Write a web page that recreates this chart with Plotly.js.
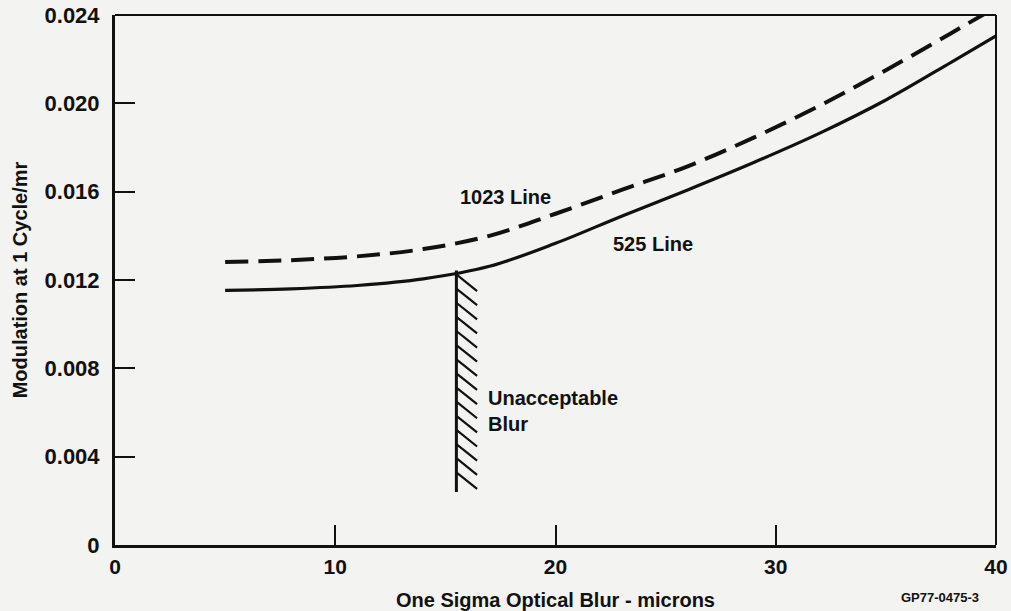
<!DOCTYPE html>
<html>
<head>
<meta charset="utf-8">
<script src="https://cdn.plot.ly/plotly-3.0.1.min.js"></script>
<style>
  html, body { margin: 0; padding: 0; background: #f3f3f1; }
  #chart { width: 1011px; height: 611px; }
</style>
</head>
<body>
<div id="chart"></div>
<script>
// ---- data ----
const x525 = [5, 8, 11, 14, 17, 20, 23, 26, 29, 32, 35, 38, 40];
const y525 = [0.01153, 0.0116, 0.01175, 0.01205, 0.01262, 0.01366, 0.01489, 0.01608, 0.01732, 0.01865, 0.02015, 0.02188, 0.02305];

const x1023 = [5, 8, 11, 14, 17, 20, 23, 26, 29, 32, 35, 38, 40];
const y1023 = [0.01282, 0.0129, 0.01307, 0.0134, 0.0140, 0.0150, 0.01608, 0.01715, 0.01845, 0.0199, 0.0215, 0.0232, 0.02435];

const blurLimitX = 15.5;
const blurLimitTop = 0.01243;
const blurLimitBottom = 0.0024;

const xTickVals = [0, 10, 20, 30, 40];
const xTickText = ["0", "10", "20", "30", "40"];
const yTickVals = [0, 0.004, 0.008, 0.012, 0.016, 0.020, 0.024];
const yTickText = ["0", "0.004", "0.008", "0.012", "0.016", "0.020", "0.024"];

const label1023 = "1023 Line";
const label525 = "525 Line";
const labelBlur = "Unacceptable<br>Blur";
const xTitle = "One Sigma Optical Blur - microns";
const yTitle = "Modulation at 1 Cycle/mr";
const figId = "GP77-0475-3";

// ---- hatching (decoration) derived from the blur-limit line ----
const hatchStep = 0.00064, hatchDx = 0.94, hatchDy = 0.00075;
const hx = [], hy = [];
for (let y = blurLimitTop - 0.00018; y > blurLimitBottom + 0.0003; y -= hatchStep) {
  hx.push(blurLimitX, blurLimitX + hatchDx, null);
  hy.push(y, y - hatchDy, null);
}

const ink = '#111';
const fontFam = '"Liberation Sans", Arial, Helvetica, sans-serif';

const traces = [
  { x: x525, y: y525, type: 'scatter', mode: 'lines',
    line: { color: ink, width: 3.2, shape: 'spline', smoothing: 1 }, hoverinfo: 'skip' },
  { x: x1023, y: y1023, type: 'scatter', mode: 'lines',
    line: { color: ink, width: 4, dash: '23px,10px', shape: 'spline', smoothing: 1 }, hoverinfo: 'skip' },
  { x: [blurLimitX, blurLimitX], y: [blurLimitTop, blurLimitBottom], type: 'scatter', mode: 'lines',
    line: { color: ink, width: 3 }, hoverinfo: 'skip' },
  { x: hx, y: hy, type: 'scatter', mode: 'lines', connectgaps: false,
    line: { color: ink, width: 2.2 }, hoverinfo: 'skip' }
];

const layout = {
  width: 1011, height: 611,
  margin: { l: 115, r: 15, t: 15, b: 66 },
  paper_bgcolor: '#f3f3f1',
  plot_bgcolor: '#f3f3f1',
  showlegend: false,
  font: { family: fontFam, color: ink, size: 20, weight: 700 },
  xaxis: {
    range: [0, 40],
    tickvals: xTickVals, ticktext: xTickText,
    ticks: 'inside', ticklen: 20, tickwidth: 2, tickcolor: ink,
    showline: true, linewidth: 3, linecolor: ink,
    showgrid: false, zeroline: false,
    ticklabelstandoff: 1,
    tickfont: { size: 21, family: fontFam, color: ink, weight: 700 },
    title: { text: xTitle, standoff: 16, font: { size: 20, family: fontFam, color: ink, weight: 700 } }
  },
  yaxis: {
    range: [0, 0.024],
    tickvals: yTickVals, ticktext: yTickText,
    ticks: 'inside', ticklen: 20, tickwidth: 2, tickcolor: ink,
    showline: true, linewidth: 3, linecolor: ink,
    showgrid: false, zeroline: false,
    ticklabelstandoff: 8,
    tickfont: { size: 22, family: fontFam, color: ink, weight: 700 },
    title: { text: yTitle, standoff: 12, font: { size: 20, family: fontFam, color: ink, weight: 700 } }
  },
  shapes: [
    { type: 'line', xref: 'paper', yref: 'paper', x0: 0, x1: 1, y0: 1, y1: 1, line: { color: ink, width: 2 } },
    { type: 'line', xref: 'paper', yref: 'paper', x0: 1, x1: 1, y0: 0, y1: 1, line: { color: ink, width: 2 } }
  ],
  annotations: [
    { x: 17.75, y: 0.01577, xref: 'x', yref: 'y', text: label1023, showarrow: false,
      font: { size: 20, family: fontFam, color: ink, weight: 700 } },
    { x: 24.43, y: 0.01365, xref: 'x', yref: 'y', text: label525, showarrow: false,
      font: { size: 20, family: fontFam, color: ink, weight: 700 } },
    { x: 16.84, y: 0.00608, xref: 'x', yref: 'y', text: labelBlur, showarrow: false,
      xanchor: 'left', align: 'left',
      font: { size: 20, family: fontFam, color: ink, weight: 700 } },
    { x: 0, y: 0, xref: 'paper', yref: 'paper', text: figId, showarrow: false,
      xanchor: 'center', yanchor: 'middle',
      font: { size: 13, family: fontFam, color: ink, weight: 700 } }
  ]
};
// place the figure id below the lower-right corner of the plot area
layout.annotations[3].x = (940 - 115) / (1011 - 115 - 15);
layout.annotations[3].y = -(597 - 545) / (611 - 15 - 66);

Plotly.newPlot('chart', traces, layout, { staticPlot: true, displayModeBar: false });
</script>
</body>
</html>
